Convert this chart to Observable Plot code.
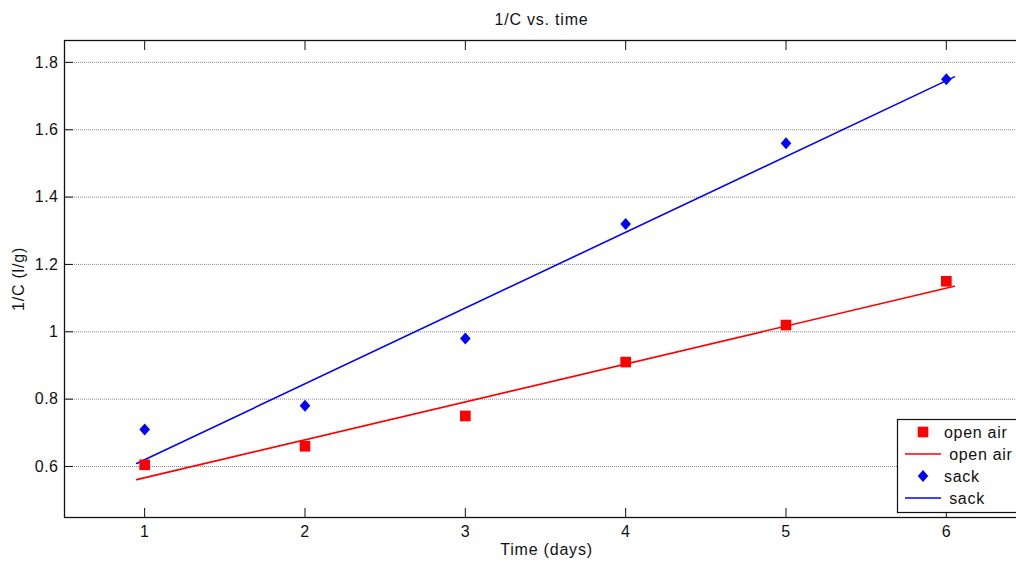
<!DOCTYPE html>
<html><head><meta charset="utf-8">
<script src="https://cdn.jsdelivr.net/npm/d3@7"></script>
<script src="https://cdn.jsdelivr.net/npm/@observablehq/plot@0.6"></script>
<style>
html,body{margin:0;padding:0;background:#fff;overflow:hidden;}
#wrap{position:relative;width:1016px;height:563px;overflow:hidden;}
#wrap svg{display:block;max-width:none !important;}
#legend{position:absolute;left:0;top:0;pointer-events:none;}
</style></head><body><div id="wrap"></div>
<script>
const days = [1, 2, 3, 4, 5, 6];
const openAir = [0.605, 0.66, 0.75, 0.91, 1.02, 1.15];
const sack = [0.71, 0.78, 0.98, 1.32, 1.56, 1.75];
const fitDays = [0.95, 6.05];
const fitOpenAir = [0.561, 1.135];
const fitSack = [0.609, 1.757];
const xTicks = [1, 2, 3, 4, 5, 6];
const yTicks = [0.6, 0.8, 1, 1.2, 1.4, 1.6, 1.8];
const legendLabels = ["open air", " open air", "sack", " sack"];

const font = "'Liberation Sans', Arial, Helvetica, sans-serif";
const ink = "#111";

const diamond = {
  draw(ctx, size) {
    const r = Math.sqrt(size / Math.PI);
    ctx.moveTo(0, -r); ctx.lineTo(r * 0.88, 0); ctx.lineTo(0, r); ctx.lineTo(-r * 0.88, 0); ctx.closePath();
  }
};

const openPts = days.map((d, i) => ({x: d, y: openAir[i]}));
const sackPts = days.map((d, i) => ({x: d, y: sack[i]}));
const openFit = fitDays.map((d, i) => ({x: d, y: fitOpenAir[i]}));
const sackFit = fitDays.map((d, i) => ({x: d, y: fitSack[i]}));

const chart = Plot.plot({
  width: 1026,
  height: 563,
  marginLeft: 64,
  marginRight: 0,
  marginTop: 40,
  marginBottom: 46,
  style: {fontSize: "16px", fontFamily: font, color: ink, background: "#fff", maxWidth: "none", overflow: "hidden"},
  x: {domain: [0.5, 6.5], label: null},
  y: {domain: [0.4485, 1.865], label: null},
  marks: [
    Plot.gridY(yTicks, {stroke: "#8a8a8a", strokeOpacity: 1, strokeDasharray: "1,1"}),
    Plot.line(openFit, {x: "x", y: "y", stroke: "#ff0000", strokeWidth: 1.6}),
    Plot.line(sackFit, {x: "x", y: "y", stroke: "#0000ff", strokeWidth: 1.6}),
    Plot.dot(openPts, {x: "x", y: "y", symbol: "square", r: 6, fill: "#ff0000", stroke: "none"}),
    Plot.dot(sackPts, {x: "x", y: "y", symbol: diamond, r: 6, fill: "#0000ff", stroke: "none"}),
    Plot.axisX(xTicks, {anchor: "bottom", tickSize: 0, tickPadding: 8, tickFormat: d => String(d), fill: ink, fontSize: 16}),
    Plot.axisX(xTicks, {anchor: "bottom", tickSize: -9, tickFormat: () => "", stroke: ink}),
    Plot.axisX(xTicks, {anchor: "top", tickSize: -9, tickFormat: () => "", stroke: ink}),
    Plot.axisY(yTicks, {anchor: "left", tickSize: 0, tickPadding: 6, tickFormat: d => String(d), fill: ink, fontSize: 16}),
    Plot.axisY(yTicks, {anchor: "left", tickSize: -9, tickFormat: () => "", stroke: ink}),
    Plot.frame({stroke: ink, strokeWidth: 1.3}),
    Plot.text(["1/C vs. time"], {frameAnchor: "top", lineAnchor: "middle", dy: -21, dx: -4, fill: ink, fontSize: 16}),
    Plot.text(["Time (days)"], {frameAnchor: "bottom", lineAnchor: "middle", dy: 32, dx: 1, fill: ink, fontSize: 16}),
    Plot.text(["1/C (l/g)"], {frameAnchor: "left", textAnchor: "middle", lineAnchor: "middle", dx: -46, rotate: -90, fill: ink, fontSize: 16})
  ]
});
d3.select(chart).selectAll('g[aria-label="text"] text').attr("letter-spacing", "0.8px");
d3.select(chart).selectAll('g[aria-label$="tick label"] text').attr("letter-spacing", "0.5px");
document.getElementById("wrap").appendChild(chart);

// legend
const lg = d3.select("#wrap").append("svg").attr("id", "legend").attr("width", 1016).attr("height", 563);
const box = {x: 897, y: 419, w: 130, h: 93};
lg.append("rect").attr("x", box.x + 0.5).attr("y", box.y + 0.5).attr("width", box.w).attr("height", box.h)
  .attr("fill", "#fff").attr("stroke", ink).attr("stroke-width", 1.2);
const rowY = [432, 454, 476, 498];
const symX = 923;
lg.append("path").attr("transform", `translate(${symX},${rowY[0]})`).attr("d", d3.symbol(d3.symbolSquare, 36 * Math.PI)()).attr("fill", "#ff0000");
lg.append("line").attr("x1", 905).attr("x2", 941).attr("y1", rowY[1]).attr("y2", rowY[1]).attr("stroke", "#ff0000").attr("stroke-width", 1.6);
lg.append("path").attr("transform", `translate(${symX},${rowY[2]})`).attr("d", d3.symbol(diamond, 36 * Math.PI)()).attr("fill", "#0000ff");
lg.append("line").attr("x1", 905).attr("x2", 941).attr("y1", rowY[3]).attr("y2", rowY[3]).attr("stroke", "#0000ff").attr("stroke-width", 1.6);
legendLabels.forEach((t, i) => {
  lg.append("text").attr("x", 944).attr("y", rowY[i]).attr("dy", "0.35em")
    .attr("font-family", font).attr("font-size", 16).attr("letter-spacing", "0.7px").attr("fill", ink)
    .attr("xml:space", "preserve").style("white-space", "pre").text(t);
});
</script></body></html>
